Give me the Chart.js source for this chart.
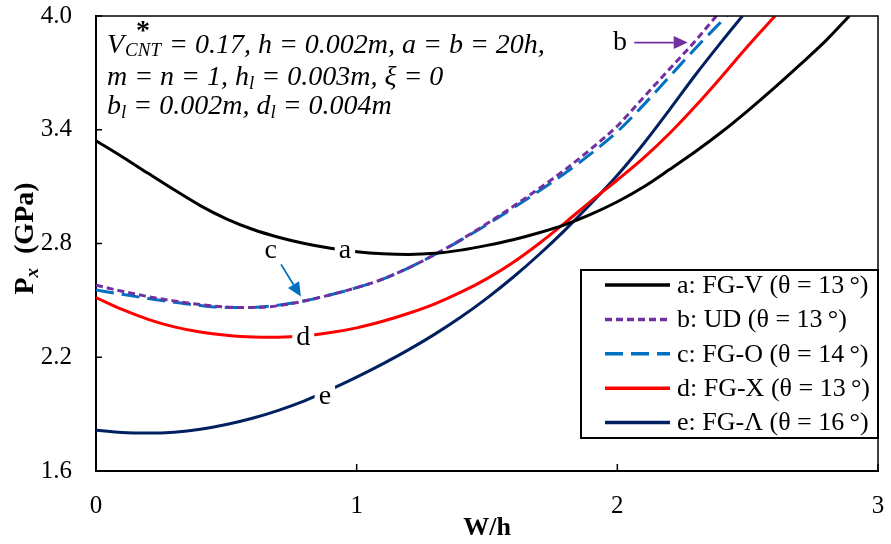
<!DOCTYPE html>
<html>
<head>
<meta charset="utf-8">
<script src="https://cdn.jsdelivr.net/npm/chart.js"></script>
<style>
  html, body { margin: 0; padding: 0; background: #fff; }
  #wrap { width: 891px; height: 544px; }
</style>
</head>
<body>
<div id="wrap"><canvas id="bucklingChart" width="891" height="544"></canvas></div>
<script>
// W/h values and P_x (GPa), one pair of arrays per curve
const whA = [0, 0.1, 0.2, 0.3, 0.4, 0.5, 0.6, 0.7, 0.8, 0.9, 1.0, 1.1, 1.2, 1.3, 1.4, 1.5, 1.6, 1.7, 1.8, 1.9, 2.0, 2.1, 2.2, 2.3, 2.4, 2.5, 2.6, 2.7, 2.8, 2.89];
const pxA = [3.342, 3.258, 3.17, 3.083, 3.0, 2.93, 2.875, 2.833, 2.8, 2.775, 2.757, 2.746, 2.742, 2.748, 2.765, 2.79, 2.82, 2.857, 2.9, 2.955, 3.02, 3.098, 3.19, 3.285, 3.388, 3.5, 3.618, 3.742, 3.87, 4.0];

const whB = [0, 0.1, 0.2, 0.3, 0.4, 0.5, 0.6, 0.7, 0.8, 0.9, 1.0, 1.1, 1.2, 1.3, 1.4, 1.5, 1.6, 1.7, 1.8, 1.9, 2.0, 2.1, 2.2, 2.3, 2.38];
const pxB = [2.58, 2.548, 2.52, 2.497, 2.478, 2.465, 2.462, 2.472, 2.497, 2.53, 2.567, 2.612, 2.672, 2.742, 2.82, 2.905, 2.995, 3.09, 3.19, 3.3, 3.42, 3.57, 3.72, 3.87, 4.0];

const whC = [0, 0.1, 0.2, 0.3, 0.4, 0.5, 0.6, 0.7, 0.8, 0.9, 1.0, 1.1, 1.2, 1.3, 1.4, 1.5, 1.6, 1.7, 1.8, 1.9, 2.0, 2.1, 2.2, 2.3, 2.42];
const pxC = [2.555, 2.532, 2.51, 2.49, 2.473, 2.463, 2.463, 2.475, 2.498, 2.53, 2.567, 2.612, 2.672, 2.742, 2.818, 2.9, 2.987, 3.077, 3.172, 3.275, 3.39, 3.53, 3.68, 3.83, 4.0];

const whD = [0, 0.1, 0.2, 0.3, 0.4, 0.5, 0.6, 0.7, 0.8, 0.9, 1.0, 1.1, 1.2, 1.3, 1.4, 1.5, 1.6, 1.7, 1.8, 1.9, 2.0, 2.1, 2.2, 2.3, 2.4, 2.5, 2.605];
const pxD = [2.515, 2.452, 2.4, 2.36, 2.333, 2.316, 2.307, 2.306, 2.313, 2.33, 2.355, 2.39, 2.432, 2.482, 2.543, 2.615, 2.7, 2.8, 2.91, 3.025, 3.135, 3.25, 3.38, 3.525, 3.68, 3.84, 4.0];

const whE = [0, 0.1, 0.2, 0.3, 0.4, 0.5, 0.6, 0.7, 0.8, 0.9, 1.0, 1.1, 1.2, 1.3, 1.4, 1.5, 1.6, 1.7, 1.8, 1.9, 2.0, 2.1, 2.2, 2.3, 2.4, 2.48];
const pxE = [1.815, 1.803, 1.8, 1.805, 1.82, 1.845, 1.878, 1.92, 1.97, 2.03, 2.095, 2.165, 2.24, 2.322, 2.412, 2.512, 2.622, 2.742, 2.872, 3.012, 3.16, 3.325, 3.505, 3.69, 3.865, 4.0];

const legendLabels = ['a: FG-V (θ = 13\u2009°)', 'b: UD (θ = 13\u2009°)', 'c: FG-O (θ = 14\u2009°)', 'd: FG-X (θ = 13\u2009°)', 'e: FG-Λ (θ = 16\u2009°)'];
const xTicks = [0, 1, 2, 3];
const yTicks = [1.6, 2.2, 2.8, 3.4, 4.0];

const serif = '"Liberation Serif", "Times New Roman", serif';

function pts(xs, ys) {
  return xs.map((x, i) => ({ x: x, y: ys[i] }));
}

function line(label, xs, ys, color, dash) {
  return {
    label: label,
    data: pts(xs, ys),
    showLine: true,
    borderColor: color,
    backgroundColor: color,
    borderWidth: 3,
    borderDash: dash,
    pointRadius: 0,
    cubicInterpolationMode: 'monotone'
  };
}

const data = {
  datasets: [
    line(legendLabels[0], whA, pxA, '#000000', []),
    line(legendLabels[1], whB, pxB, '#7030A0', [7, 4]),
    line(legendLabels[2], whC, pxC, '#0070C0', [18, 8]),
    line(legendLabels[3], whD, pxD, '#FF0000', []),
    line(legendLabels[4], whE, pxE, '#002060', [])
  ]
};

// rich text: [text, kind] with kind i (italic), sub, stack (star over subscript)
function drawRich(ctx, x, y, parts, size) {
  let cx = x;
  const small = Math.round(size * 0.68);
  parts.forEach(p => {
    const [t, kind] = p;
    if (kind === 'sub') {
      ctx.font = 'italic ' + small + 'px ' + serif;
      ctx.fillText(t, cx, y + 4);
      cx += ctx.measureText(t).width;
    } else if (kind === 'stack') {
      ctx.font = 'italic ' + small + 'px ' + serif;
      const w = ctx.measureText(t).width;
      ctx.fillText(t, cx + 1, y + 3);
      ctx.font = 'bold ' + size + 'px ' + serif;
      const sw = ctx.measureText('*').width;
      ctx.fillText('*', cx + 1 + (w - sw) / 2, y - 14);
      cx += w + 2;
    } else {
      ctx.font = 'italic ' + size + 'px ' + serif;
      ctx.fillText(t, cx, y);
      cx += ctx.measureText(t).width;
    }
  });
}

function labelOnCurve(ctx, xs, ys, wx, py, txt, gap) {
  const px = xs.getPixelForValue(wx), pyy = ys.getPixelForValue(py);
  ctx.font = '28px ' + serif;
  const w = ctx.measureText(txt).width;
  if (gap) {
    ctx.fillStyle = '#fff';
    ctx.fillRect(px - w / 2 - 4, pyy - 11, w + 8, 22);
  }
  ctx.fillStyle = '#000';
  ctx.textAlign = 'center';
  ctx.textBaseline = 'middle';
  ctx.fillText(txt, px, pyy);
}

function arrow(ctx, x1, y1, x2, y2, color) {
  const a = Math.atan2(y2 - y1, x2 - x1);
  const hl = 14, hw = 6.5;
  const bx = x2 - hl * Math.cos(a), by = y2 - hl * Math.sin(a);
  ctx.strokeStyle = color;
  ctx.lineWidth = 1.8;
  ctx.beginPath();
  ctx.moveTo(x1, y1);
  ctx.lineTo(bx, by);
  ctx.stroke();
  ctx.fillStyle = color;
  ctx.beginPath();
  ctx.moveTo(x2, y2);
  ctx.lineTo(bx + hw * Math.sin(a), by - hw * Math.cos(a));
  ctx.lineTo(bx - hw * Math.sin(a), by + hw * Math.cos(a));
  ctx.closePath();
  ctx.fill();
}

const decorations = {
  id: 'decorations',
  afterDatasetsDraw(chart) {
    const ctx = chart.ctx;
    const area = chart.chartArea;
    const xs = chart.scales.x, ys = chart.scales.y;
    ctx.save();

    // frame on top and right
    ctx.strokeStyle = '#000';
    ctx.lineWidth = 1.5;
    ctx.beginPath();
    ctx.moveTo(area.left, area.top);
    ctx.lineTo(area.right, area.top);
    ctx.lineTo(area.right, area.bottom);
    ctx.stroke();

    // inward tick marks
    ctx.beginPath();
    yTicks.forEach(v => {
      const y = ys.getPixelForValue(v);
      ctx.moveTo(area.left, y);
      ctx.lineTo(area.left + 6, y);
    });
    xTicks.forEach(v => {
      const x = xs.getPixelForValue(v);
      ctx.moveTo(x, area.bottom);
      ctx.lineTo(x, area.bottom - 7);
    });
    ctx.stroke();

    // curve letters
    labelOnCurve(ctx, xs, ys, 0.955, 2.76, 'a', true);
    labelOnCurve(ctx, xs, ys, 0.795, 2.305, 'd', true);
    labelOnCurve(ctx, xs, ys, 0.878, 1.99, 'e', true);
    labelOnCurve(ctx, xs, ys, 0.67, 2.76, 'c', false);
    labelOnCurve(ctx, xs, ys, 2.01, 3.86, 'b', false);
    arrow(ctx, xs.getPixelForValue(0.71), ys.getPixelForValue(2.69),
      xs.getPixelForValue(0.786), ys.getPixelForValue(2.52), '#0070C0');
    arrow(ctx, xs.getPixelForValue(2.065), ys.getPixelForValue(3.86),
      xs.getPixelForValue(2.27), ys.getPixelForValue(3.86), '#7030A0');

    // parameter text
    ctx.fillStyle = '#000';
    ctx.textAlign = 'left';
    ctx.textBaseline = 'alphabetic';
    drawRich(ctx, 107, 53, [['V', 'i'], ['CNT', 'stack'], [' = 0.17, h = 0.002m, a = b = 20h,', 'i']], 28);
    drawRich(ctx, 107, 85, [['m = n = 1, h', 'i'], ['l', 'sub'], [' = 0.003m, ξ = 0', 'i']], 28);
    drawRich(ctx, 107, 114, [['b', 'i'], ['l', 'sub'], [' = 0.002m, d', 'i'], ['l', 'sub'], [' = 0.004m', 'i']], 28);

    // legend box
    const lx = 581, ly = 270, lw = area.right - 581, lh = 168;
    ctx.fillStyle = '#fff';
    ctx.fillRect(lx, ly, lw, lh);
    ctx.strokeStyle = '#000';
    ctx.lineWidth = 2;
    ctx.strokeRect(lx, ly, lw, lh);
    chart.data.datasets.forEach((ds, i) => {
      const yy = 285 + i * 34.4;
      ctx.strokeStyle = ds.borderColor;
      ctx.lineWidth = 3.5;
      ctx.setLineDash(ds.borderDash || []);
      ctx.beginPath();
      ctx.moveTo(605, yy);
      ctx.lineTo(670, yy);
      ctx.stroke();
      ctx.setLineDash([]);
      ctx.fillStyle = '#000';
      ctx.font = '26px ' + serif;
      ctx.textAlign = 'left';
      ctx.textBaseline = 'middle';
      ctx.fillText(ds.label, 677, yy + 1);
    });

    // y axis title P_x (GPa)
    ctx.translate(33, (area.top + area.bottom) / 2 - 5);
    ctx.rotate(-Math.PI / 2);
    ctx.fillStyle = '#000';
    ctx.textBaseline = 'alphabetic';
    ctx.textAlign = 'left';
    ctx.font = 'bold 28px ' + serif;
    const wP = ctx.measureText('P').width;
    const wG = ctx.measureText('  (GPa)').width;
    ctx.font = 'bold italic 19px ' + serif;
    const wx = ctx.measureText('x').width;
    const sx = -(wP + wx + wG) / 2;
    ctx.font = 'bold 28px ' + serif;
    ctx.fillText('P', sx, 0);
    ctx.font = 'bold italic 19px ' + serif;
    ctx.fillText('x', sx + wP, 5);
    ctx.font = 'bold 28px ' + serif;
    ctx.fillText('  (GPa)', sx + wP + wx, 0);
    ctx.restore();
  }
};

function fixBox(s, key, size) {
  s[key] = size;
  s.paddingTop = 0;
  s.paddingBottom = 0;
  s.paddingLeft = 0;
  s.paddingRight = 0;
}

const config = {
  type: 'scatter',
  data,
  options: {
    responsive: false,
    animation: false,
    layout: { padding: { top: 16, right: 13, left: 0, bottom: 0 } },
    plugins: {
      legend: { display: false },
      tooltip: { enabled: false }
    },
    scales: {
      x: {
        type: 'linear',
        min: 0,
        max: 3,
        afterFit: (s) => fixBox(s, 'height', 73),
        afterBuildTicks: (s) => { s.ticks = xTicks.map(v => ({ value: v })); },
        grid: { display: false, drawTicks: false },
        border: { display: true, color: '#000', width: 2 },
        ticks: {
          padding: 20,
          color: '#000',
          font: { family: serif, size: 25 },
          maxRotation: 0,
          callback: (v) => String(v)
        },
        title: {
          display: true,
          text: 'W/h',
          color: '#000',
          font: { family: serif, size: 26, weight: 'bold' },
          padding: { top: 0, bottom: 0 }
        }
      },
      y: {
        type: 'linear',
        min: 1.6,
        max: 4.0,
        afterFit: (s) => fixBox(s, 'width', 96),
        afterBuildTicks: (s) => { s.ticks = yTicks.map(v => ({ value: v })); },
        grid: { display: false, drawTicks: false },
        border: { display: true, color: '#000', width: 2 },
        ticks: {
          padding: 24,
          color: '#000',
          font: { family: serif, size: 25 },
          callback: (v) => Number(v).toFixed(1)
        }
      }
    }
  },
  plugins: [decorations]
};

const bucklingChart = new Chart(document.getElementById('bucklingChart'), config);
</script>
</body>
</html>
